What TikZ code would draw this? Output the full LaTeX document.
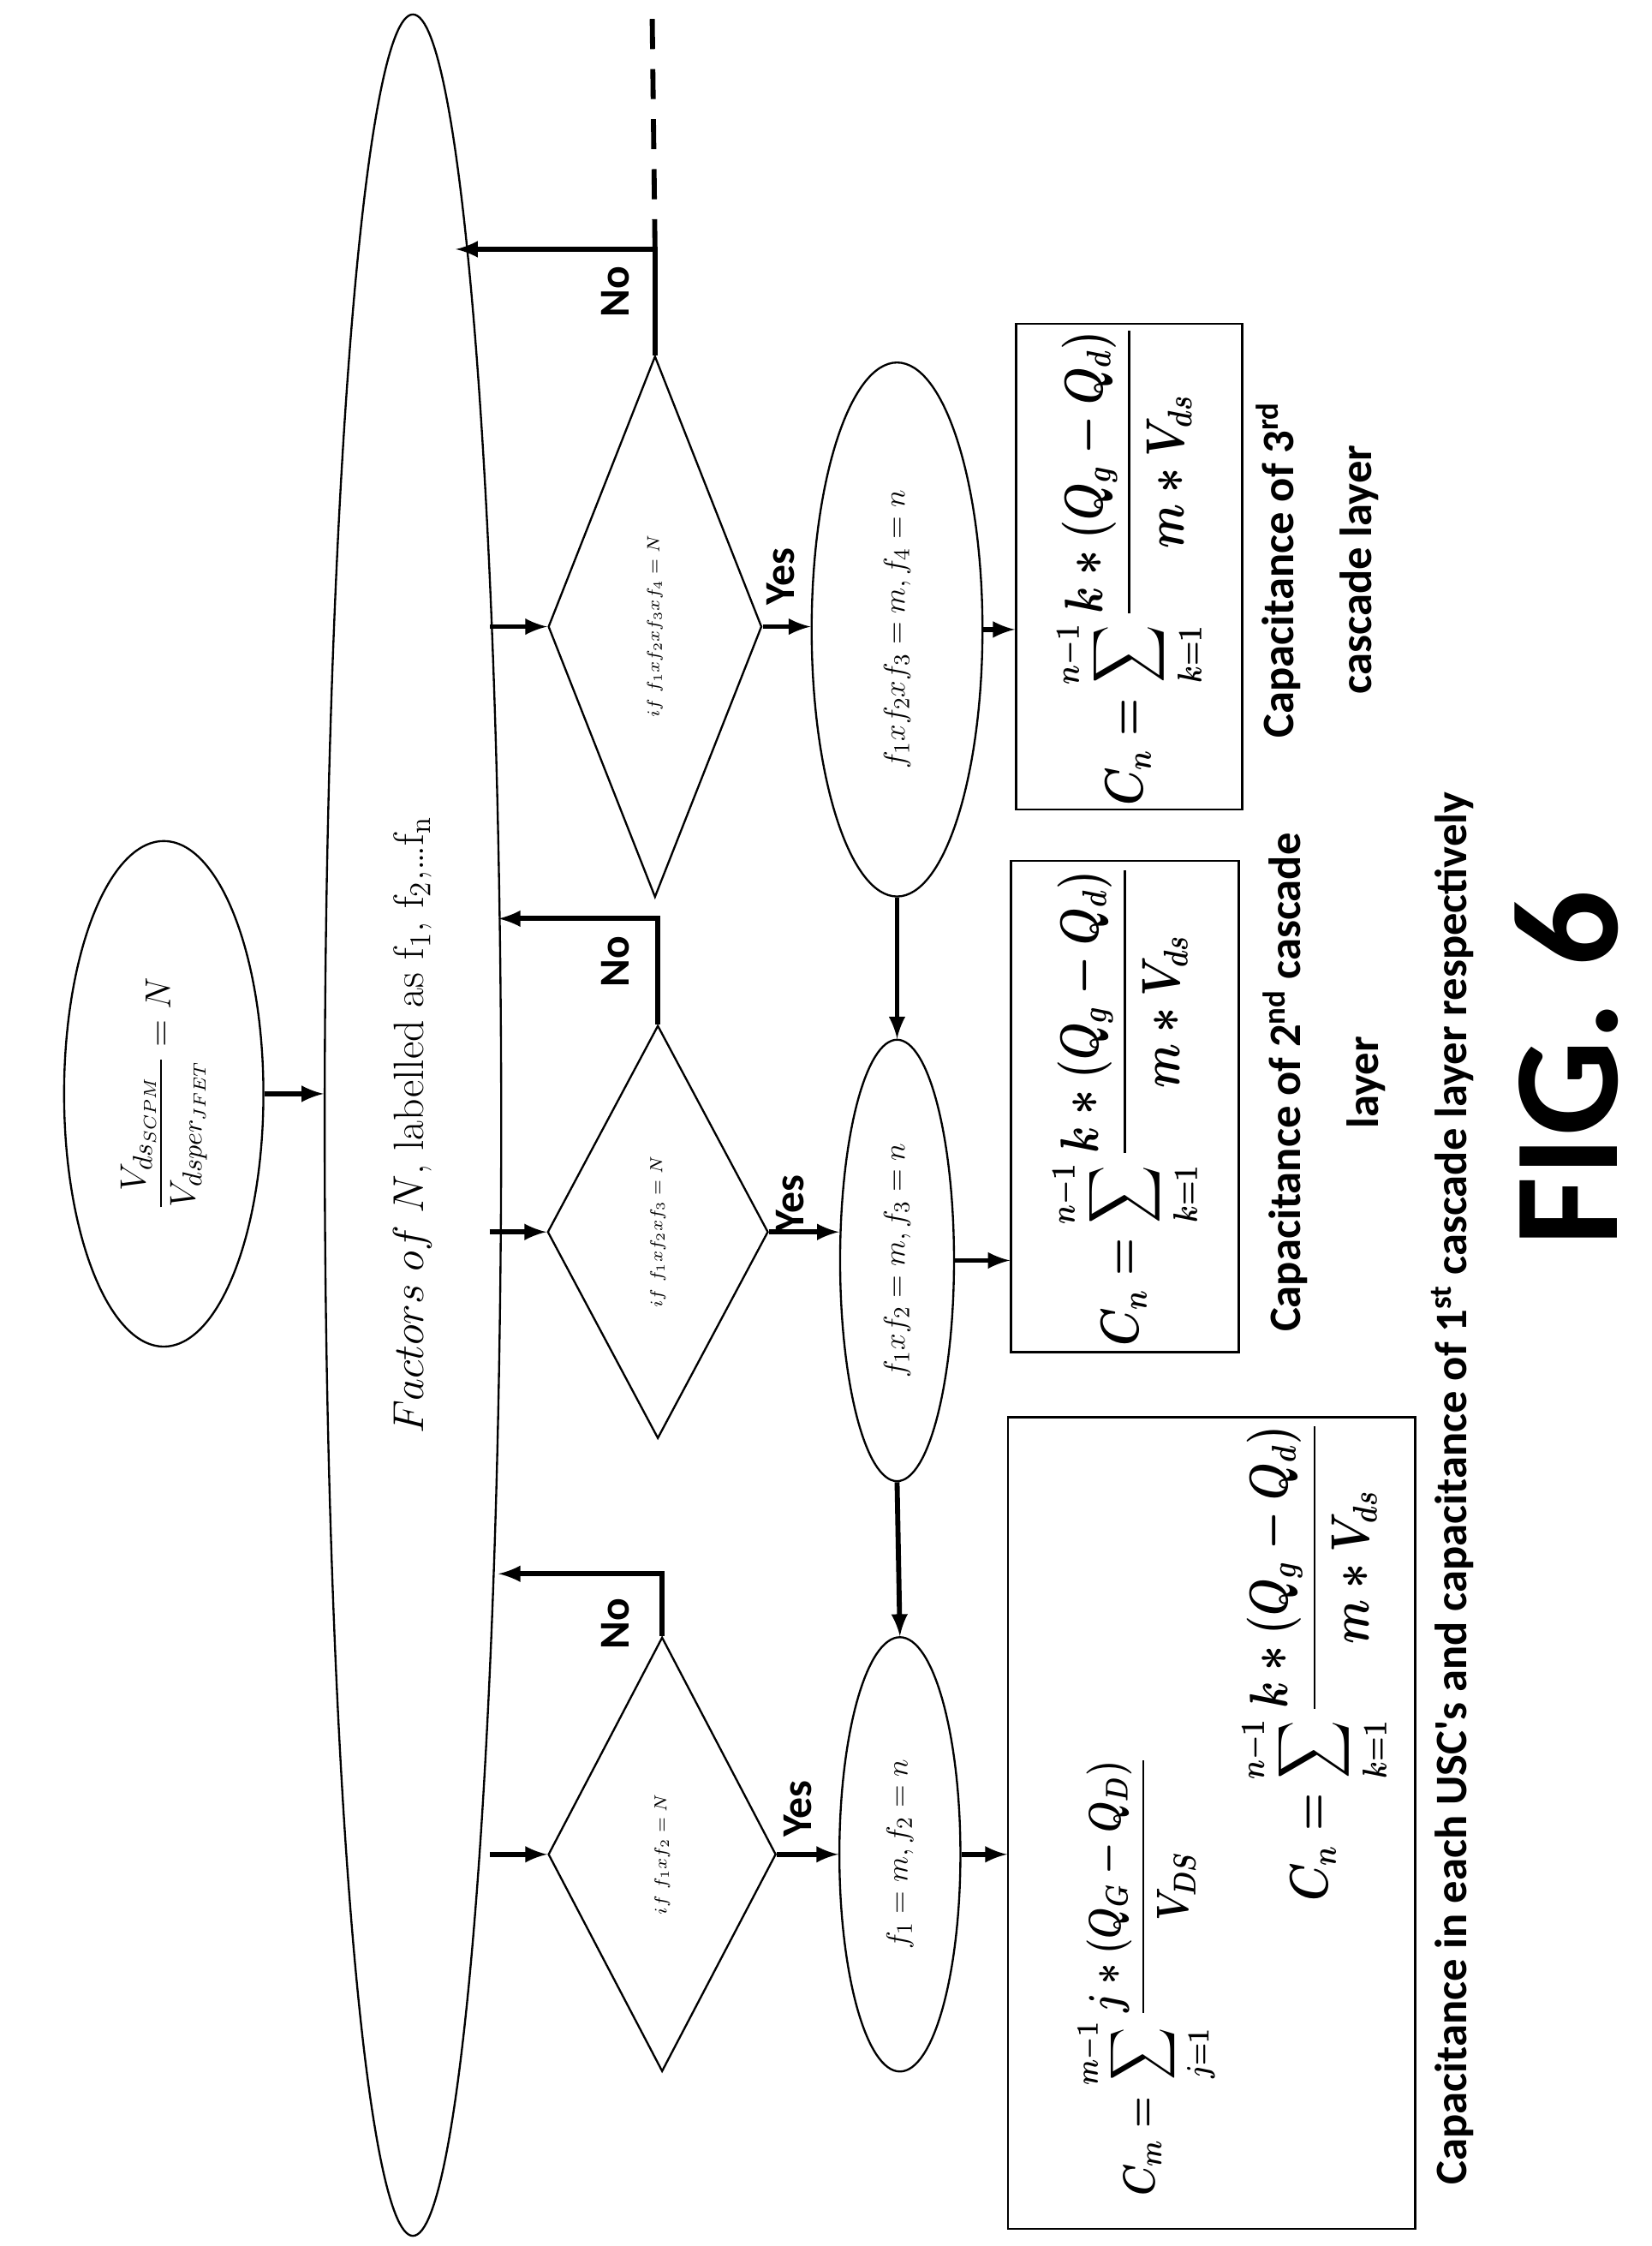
\documentclass[tikz,border=0pt]{standalone}
\usepackage{amsmath}
\usepackage{amssymb}
\usepackage{graphicx}
\usepackage{fontspec}
\newfontfamily\lab{Carlito}[BoldFont={* Bold}]
\usetikzlibrary{arrows,shapes.geometric,positioning}
\newcommand{\capform}[4]{\scalebox{1}[1.25]{$#1=\displaystyle\sum_{#2=1}^{#3-1}#4$}}

\begin{document}
\begin{tikzpicture}[x=0.02cm,y=-0.02cm,
	shp/.style={draw,line width=0.8pt,rotate=90,inner sep=0pt},
	elli/.style={shp,ellipse},
	dia/.style={shp,diamond},
	box/.style={shp,rectangle},
	frm/.style={rotate=90,inner sep=0pt,font=\fontsize{16}{19}\selectfont\boldmath},
	arr/.style={-latex,line width=2pt},
	yn/.style={rotate=90,font=\lab\bfseries\fontsize{17}{20}\selectfont},
	caption/.style={rotate=90,align=center,font=\lab\bfseries\fontsize{18}{31}\selectfont}]
	\useasboundingbox (0,0) rectangle (1160,1577);
	\node[elli,minimum width=31.2cm,minimum height=2.48cm] (fac) at (290,790)
		{\fontsize{17}{20}\selectfont $Factors\ of\ N$, labelled as f$_1$, f$_2$,\ldots f$_\mathrm{n}$};
	\node[elli,minimum width=7.1cm,minimum height=2.8cm] (v) at (115,768)
		{\fontsize{15}{18}\selectfont $\dfrac{V_{ds_{SCPM}}}{V_{dsper_{JFET}}}=N$};
	\node[dia,minimum width=6.1cm,minimum height=3.2cm] (d1) at (465,1302) {\scriptsize $if\ f_1xf_2=N$};
	\node[dia,minimum width=5.8cm,minimum height=3.1cm] (d2) at (462,865) {\scriptsize $if\ f_1xf_2xf_3=N$};
	\node[dia,minimum width=7.6cm,minimum height=3.0cm] (d3) at (460,440) {\scriptsize $if\ f_1xf_2xf_3xf_4=N$};
	\node[elli,minimum width=6.1cm,minimum height=1.7cm] (e1) at (632,1302) {\fontsize{13}{16}\selectfont $f_1=m,f_2=n$};
	\node[elli,minimum width=6.2cm,minimum height=1.6cm] (e2) at (630,885) {\fontsize{13}{16}\selectfont $f_1xf_2=m,f_3=n$};
	\node[elli,minimum width=7.5cm,minimum height=2.4cm] (e3) at (630,442) {\fontsize{13}{16}\selectfont $f_1xf_2xf_3=m,f_4=n$};
	\node[box,minimum width=11.4cm,minimum height=5.72cm] (b1) at (851,1280) {};
	\node[box,minimum width=6.9cm,minimum height=3.2cm] (b2) at (790,777) {};
	\node[box,minimum width=6.82cm,minimum height=3.18cm] (b3) at (793,398) {};
	\node[frm,font=\fontsize{14.5}{17}\selectfont\boldmath] (cm) at (805,1388) {\capform{C_m}{j}{m}{\frac{j*(Q_G-Q_D)}{V_{DS}}}};
	\node[frm] (cn1) at (923,1167) {\capform{C_n}{k}{n}{\frac{k*(Q_g-Q_d)}{m*V_{ds}}}};
	\node[frm] (cn2) at (790,777) {\capform{C_n}{k}{n}{\frac{k*(Q_g-Q_d)}{m*V_{ds}}}};
	\node[frm] (cn3) at (793,398) {\capform{C_n}{k}{n}{\frac{k*(Q_g-Q_d)}{m*V_{ds}}}};
	\node[caption] (c3) at (925,400) {Capacitance of 3\textsuperscript{rd}\\cascade layer};
	\node[caption] (c2) at (930,760) {Capacitance of 2\textsuperscript{nd} cascade\\layer};
	\node[caption] (c1) at (1020,1045) {Capacitance in each USC's and capacitance of 1\textsuperscript{st} cascade layer respectively};
	\node[rotate=90,font=\lab\bfseries\fontsize{60}{70}\selectfont] (fig) at (1100,750) {FIG. 6};
	\coordinate (n1) at (350,1105);
	\coordinate (n2) at (350,645);
	\coordinate (n3) at (320,175);
	\coordinate (top) at (458,10);
	\node[yn] (no1) at (432,1140) {No};
	\node[yn] (no2) at (432,675) {No};
	\node[yn] (no3) at (432,205) {No};
	\node[yn] (yes1) at (560,1270) {Yes};
	\node[yn] (yes2) at (555,845) {Yes};
	\node[yn] (yes3) at (548,405) {Yes};
	\draw[arr] (v.south) -- (v.south -| fac.north);
	\foreach \d in {d1,d2,d3}
		\draw[arr] ([xshift=-0.8cm]\d.north) -- (\d.north);
	\draw[arr] (d1.east) |- (n1);
	\draw[arr] (d2.east) |- (n2);
	\draw[arr] (d3.east) |- (n3);
	\draw[line width=2pt,dash pattern=on 12pt off 8pt] (d3.east |- n3) -- (top);
	\draw[arr] (d1.south) -- (d1.south -| e1.north);
	\draw[arr] (d2.south) -- (d2.south -| e2.north);
	\draw[arr] (d3.south) -- (d3.south -| e3.north);
	\draw[arr] (e3.west) -- (e2.east);
	\draw[arr] (e2.west) -- (e1.east);
	\draw[arr] (e1.south) -- (e1.south -| b1.north);
	\draw[arr] (e2.south) -- (e2.south -| b2.north);
	\draw[arr] (e3.south) -- (e3.south -| b3.north);
\end{tikzpicture}
\end{document}
